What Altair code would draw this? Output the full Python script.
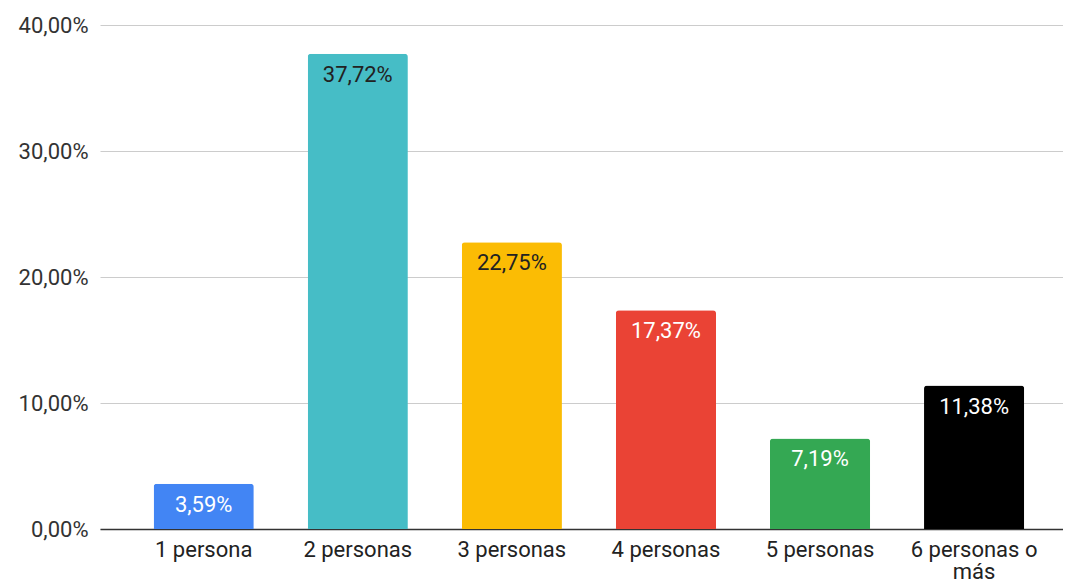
import altair as alt
import pandas as pd

categories = ["1 persona", "2 personas", "3 personas", "4 personas", "5 personas", "6 personas o más"]
values = [3.59, 37.72, 22.75, 17.37, 7.19, 11.38]
bar_colors = ["#4285F4", "#46BDC6", "#FBBC04", "#EA4335", "#34A853", "#000000"]
label_colors = ["#ffffff", "#222222", "#222222", "#ffffff", "#ffffff", "#ffffff"]
y_ticks = [0, 10, 20, 30, 40]

df = pd.DataFrame({
    "cat": categories,
    "val": values,
    "bar_color": bar_colors,
    "label_color": label_colors,
})

FONT = "Roboto"
FS = 22

x = alt.X(
    "cat:N",
    sort=categories,
    title=None,
    scale=alt.Scale(paddingInner=0.35, paddingOuter=0.30, align=0.58),
    axis=alt.Axis(
        labelAngle=0,
        labelFont=FONT,
        labelFontSize=FS,
        labelColor="#222222",
        labelPadding=10,
        labelLineHeight=22,
        labelExpr="datum.label == '6 personas o más' ? ['6 personas o', 'más'] : datum.label",
        ticks=False,
        domain=True,
        domainColor="#333333",
        domainWidth=1.5,
        grid=False,
        labelLimit=300,
    ),
)

y = alt.Y(
    "val:Q",
    title=None,
    scale=alt.Scale(domain=[0, 40], nice=False),
    axis=alt.Axis(
        values=y_ticks,
        labelExpr="replace(format(datum.value, '.2f'), '.', ',') + '%'",
        labelFont=FONT,
        labelFontSize=FS,
        labelColor="#333333",
        labelPadding=12,
        ticks=False,
        domain=False,
        grid=True,
        gridColor="#cccccc",
        gridWidth=1,
    ),
)

base = alt.Chart(df).transform_calculate(
    lbl="replace(format(datum.val, '.2f'), '.', ',') + '%'"
)

bars = base.mark_bar(cornerRadiusTopLeft=3, cornerRadiusTopRight=3).encode(
    x=x,
    y=y,
    color=alt.Color("bar_color:N", scale=None, legend=None),
)

text = base.mark_text(font=FONT, fontSize=FS, baseline="middle", dy=21).encode(
    x=alt.X("cat:N", sort=categories),
    y=alt.Y("val:Q"),
    text="lbl:N",
    color=alt.Color("label_color:N", scale=None, legend=None),
)

chart = (
    alt.layer(bars, text)
    .properties(
        width=963,
        height=504,
        autosize=alt.AutoSizeParams(type="none"),
        padding={"left": 92, "top": 17, "right": 0, "bottom": 52},
    )
    .configure_view(stroke=None)
)

chart.save("out.html", embed_options={"renderer": "svg", "actions": False})
